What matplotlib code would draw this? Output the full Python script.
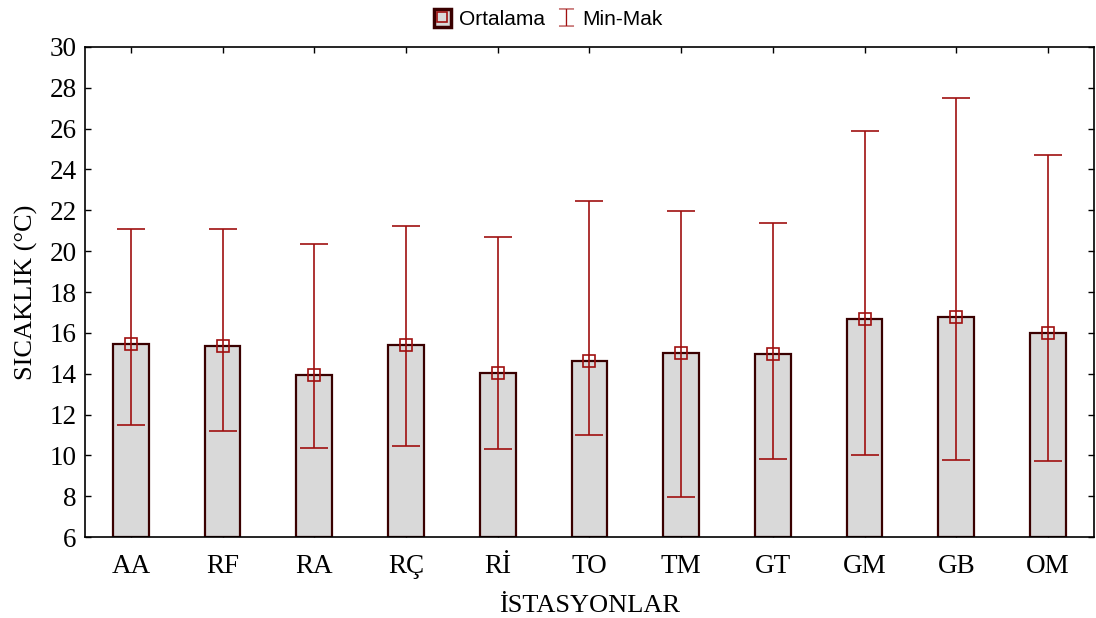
import numpy as np
import matplotlib
matplotlib.use("Agg")
import matplotlib.pyplot as plt
from matplotlib.lines import Line2D
from matplotlib.patches import Patch
from matplotlib.legend_handler import HandlerTuple

# Station names and temperature summaries (deg C)
stations = ['AA', 'RF', 'RA', 'RÇ', 'Rİ', 'TO', 'TM', 'GT', 'GM', 'GB', 'OM']
means = [15.45, 15.38, 13.95, 15.42, 14.02, 14.62, 15.02, 14.98, 16.7, 16.8, 15.97]
t_min = [11.5, 11.2, 10.35, 10.45, 10.3, 11.0, 7.95, 9.8, 10.0, 9.75, 9.7]
t_max = [21.08, 21.08, 20.35, 21.22, 20.68, 22.45, 21.95, 21.38, 25.9, 27.5, 24.72]

bar_face = '#d9d9d9'
bar_edge = '#3a0000'
err_col = '#a01010'

fig = plt.figure(figsize=(10.96, 6.18), dpi=100)
ax = fig.add_axes([0.0776, 0.131, 0.9204, 0.793])

x = np.arange(len(stations))
ax.bar(x, np.array(means) - 6, bottom=6, width=0.39, color=bar_face,
       edgecolor=bar_edge, linewidth=1.6, zorder=2)

means_arr = np.array(means)
yerr = [means_arr - np.array(t_min), np.array(t_max) - means_arr]
ax.errorbar(x, means, yerr=yerr, fmt='none', ecolor=err_col, elinewidth=1.2,
            capsize=10, capthick=1.2, zorder=3)
ax.plot(x, means, linestyle='none', marker='s', markersize=8,
        markerfacecolor='none', markeredgecolor=err_col, markeredgewidth=1.2, zorder=4)

ax.set_xlim(-0.5, len(stations) - 0.5)
ax.set_ylim(6, 30)
ax.set_yticks(np.arange(6, 31, 2))
ax.set_xticks(x)
ax.set_xticklabels(stations)

serif = 'Liberation Serif'
for lab in ax.get_xticklabels() + ax.get_yticklabels():
    lab.set_family(serif)
    lab.set_fontsize(19.5)

ax.tick_params(direction='in', length=4, width=1, top=True, right=True)
ax.tick_params(axis='x', pad=12)
ax.tick_params(axis='y', pad=6)
for sp in ax.spines.values():
    sp.set_linewidth(1.2)

ax.set_xlabel('İSTASYONLAR', family=serif, fontsize=19, labelpad=12)
ax.set_ylabel('SICAKLIK (°C)', family=serif, fontsize=19, labelpad=8)

leg_handles = [
    (Patch(facecolor=bar_face, edgecolor=bar_edge, linewidth=2.5),
     Line2D([0], [0], marker='s', markersize=7, markerfacecolor='none',
            markeredgecolor=err_col, markeredgewidth=1.2, linestyle='none')),
    Line2D([0], [0], color=err_col, marker='$\u2336$', markersize=13,
           markeredgewidth=0, linestyle='none'),
]
fig.legend(leg_handles, ['Ortalama', 'Min-Mak'], loc='upper center',
           bbox_to_anchor=(0.5, 1.015), ncol=2, frameon=False,
           prop={'family': 'Liberation Sans', 'size': 15},
           handlelength=0.85, handleheight=0.9, handletextpad=0.35,
           columnspacing=0.6,
           handler_map={tuple: HandlerTuple(ndivide=1, pad=0)})

fig.savefig('out.png', dpi=100)
